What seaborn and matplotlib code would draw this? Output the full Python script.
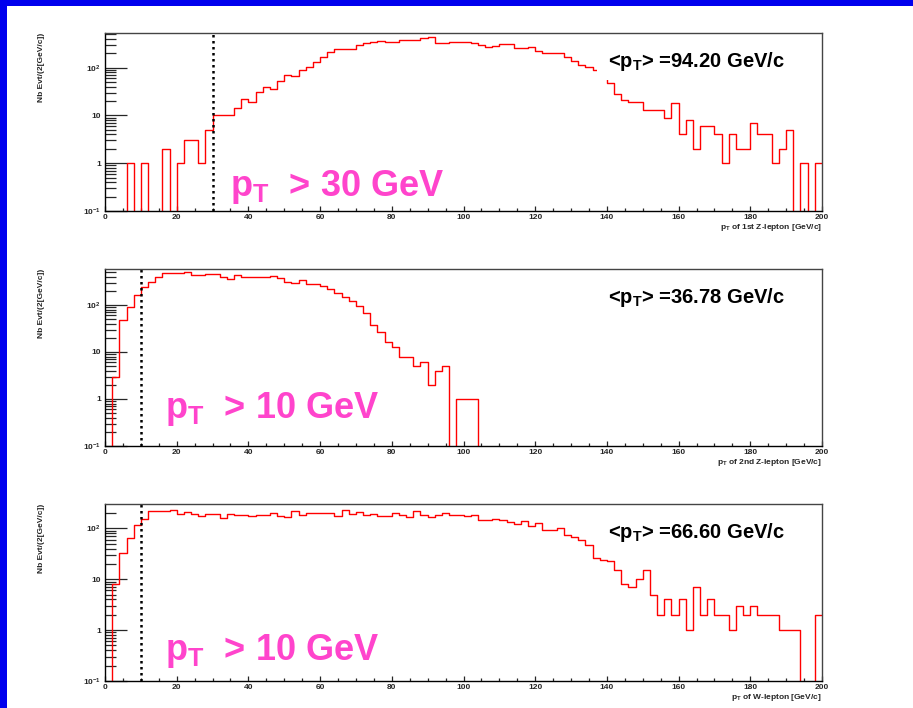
import numpy as np
import pandas as pd
import matplotlib
matplotlib.use("Agg")
import matplotlib.pyplot as plt
from matplotlib.patches import Rectangle
from matplotlib.ticker import FixedLocator, FixedFormatter, NullFormatter
import seaborn as sns

# ---------------- data (counts per 2 GeV bin, 0..200 GeV) ----------------
bin_edges = list(range(0, 202, 2))

z1_counts = [0, 0, 0, 1, 0, 1, 0, 0, 2, 0, 1, 3, 3, 1, 5,
             10, 10, 10, 14, 22, 19, 31, 39, 36, 53, 71, 67, 91, 101, 128,
             167, 213, 246, 250, 250, 302, 330, 345, 369, 345, 345, 374, 374, 374, 411,
             439, 330, 330, 345, 345, 345, 330, 302, 267, 290, 313, 313, 254, 254, 270,
             228, 203, 203, 203, 167, 140, 115, 103, 91, 80,
             47, 28, 21, 19, 19, 13, 13, 13, 9, 18, 4, 8, 2, 6, 6,
             4, 1, 4, 2, 2, 7, 4, 4, 1, 2, 5, 0, 1, 0, 1]

z2_counts = [0, 3, 47, 89, 166, 246, 301, 403, 475, 475, 475, 500, 437, 437, 458,
             458, 403, 359, 437, 392, 392, 392, 392, 415, 370, 306, 291, 344, 277, 277,
             259, 218, 179, 145, 120, 97, 68, 38, 26, 16, 13, 8, 8, 5, 6,
             2, 4, 5, 0, 1, 1, 1] + [0] * 48

w_counts = [0, 8, 33, 65, 118, 155, 219, 219, 219, 232, 194, 210, 188, 177, 194,
            194, 162, 194, 185, 185, 177, 185, 185, 200, 177, 166, 219, 185, 199, 199,
            199, 199, 175, 232, 194, 209, 185, 194, 175, 175, 199, 185, 167, 219, 180,
            167, 185, 197, 180, 180, 172, 180, 148, 148, 154, 143, 133, 123, 139, 111,
            127, 94, 94, 102, 75, 67, 58, 46, 26, 24,
            23, 15, 8, 7, 10, 15, 5, 2, 4, 2, 4, 1, 7, 2, 4,
            2, 2, 1, 3, 2, 3, 2, 2, 2, 1, 1, 1, 0, 0, 2]

x_titles = ["1st Z-lepton", "2nd Z-lepton", "W-lepton"]
mean_pt = ["94.20", "36.78", "66.60"]
cut_values = [30, 10, 10]
y_tops = [530, 583, 300]

# ---------------- style ----------------
sns.set_style("white")
plt.rcParams['font.family'] = ['Liberation Sans', 'DejaVu Sans']
plt.rcParams['mathtext.fontset'] = 'custom'
plt.rcParams['mathtext.rm'] = 'Liberation Sans'
plt.rcParams['mathtext.bf'] = 'Liberation Sans:bold'
plt.rcParams['mathtext.it'] = 'Liberation Sans:italic'

W, H = 913, 708
fig = plt.figure(figsize=(W / 100, H / 100), dpi=100)
fig.patch.set_facecolor('white')

# blue slide border (top and left)
fig.patches.append(Rectangle((0, 1 - 6 / H), 1, 6 / H, transform=fig.transFigure,
                             facecolor='#0000ee', edgecolor='none', zorder=10))
fig.patches.append(Rectangle((0, 0), 7 / W, 1, transform=fig.transFigure,
                             facecolor='#0000ee', edgecolor='none', zorder=10))

panel_px = [(33, 211), (269, 446), (504, 681)]
left_px, right_px = 105, 822
magenta = '#ff44cc'
cut_text_pos = [(0.174, 0.085), (0.084, 0.16), (0.084, 0.12)]

centers = [(bin_edges[i] + bin_edges[i + 1]) / 2 for i in range(len(bin_edges) - 1)]
all_counts = [z1_counts, z2_counts, w_counts]

for i, counts in enumerate(all_counts):
    top, bot = panel_px[i]
    ax = fig.add_axes([left_px / W, 1 - bot / H, (right_px - left_px) / W, (bot - top) / H])
    df = pd.DataFrame({'pt': centers, 'n': counts})
    sns.histplot(data=df, x='pt', weights='n', bins=bin_edges, element='step',
                 fill=False, color='#ff0000', linewidth=1.0, ax=ax)
    ax.set_yscale('log', nonpositive='clip')
    ax.set_xlim(0, 200)
    ax.set_ylim(0.1, y_tops[i])

    # hiding box behind the mean text (as in the original)
    ax.add_patch(Rectangle((0.686, 0.736), 0.312, 0.262, transform=ax.transAxes,
                           facecolor='white', edgecolor='none', zorder=3))

    # cut line
    ax.axvline(cut_values[i], color='black', lw=1.8, linestyle=(0, (1, 1.4)), zorder=4)

    # ticks
    ax.yaxis.set_major_locator(FixedLocator([0.1, 1, 10, 100]))
    ax.yaxis.set_major_formatter(FixedFormatter([r'$\mathbf{10^{-1}}$', '1', '10', r'$\mathbf{10^{2}}$']))
    minors = [k * 10.0 ** n for n in range(-1, 3) for k in range(2, 10) if k * 10.0 ** n < y_tops[i]]
    ax.yaxis.set_minor_locator(FixedLocator(minors))
    ax.yaxis.set_minor_formatter(NullFormatter())
    ax.xaxis.set_major_locator(FixedLocator(list(range(0, 201, 20))))
    ax.xaxis.set_minor_locator(FixedLocator(list(range(0, 201, 5))))
    ax.tick_params(axis='y', which='major', direction='in', length=15.8, width=0.9,
                   left=True, right=False, labelsize=6, pad=3)
    ax.tick_params(axis='y', which='minor', direction='in', length=7.9, width=0.9,
                   left=True, right=False)
    ax.tick_params(axis='x', which='major', direction='in', length=3.6, width=0.9,
                   bottom=True, top=False, labelsize=6, pad=2)
    ax.tick_params(axis='x', which='minor', direction='in', length=2.0, width=0.9,
                   bottom=True, top=False)
    for lab in ax.get_xticklabels() + ax.get_yticklabels():
        lab.set_fontweight('bold')

    for side in ['left', 'bottom']:
        ax.spines[side].set_color('black')
        ax.spines[side].set_linewidth(1.0)
    for side in ['top', 'right']:
        ax.spines[side].set_color('#444444')
        ax.spines[side].set_linewidth(1.0)
    for s in ax.spines.values():
        s.set_zorder(6)

    ax.set_xlabel(r'p$_\mathbf{T}$ of ' + x_titles[i] + ' [GeV/c]', loc='right',
                  fontsize=6, fontweight='bold', labelpad=1)
    ax.set_ylabel('Nb Evt/(2[GeV/c])', loc='top', fontsize=6, fontweight='bold')
    ax.yaxis.set_label_coords(-0.083, 1.0)

    ax.text(0.7015, 0.81, r'<p$_\mathbf{T}$> =' + mean_pt[i] + ' GeV/c', transform=ax.transAxes,
            fontsize=14.5, fontweight='bold', color='black', ha='left', va='baseline', zorder=7)

    tx, ty = cut_text_pos[i]
    ax.text(tx, ty, r'p$_\mathbf{T}$  > ' + f'{cut_values[i]} GeV', transform=ax.transAxes,
            fontsize=26, fontweight='bold', color=magenta, ha='left', va='baseline', zorder=7)

fig.savefig('out.png', dpi=100, facecolor='white')
